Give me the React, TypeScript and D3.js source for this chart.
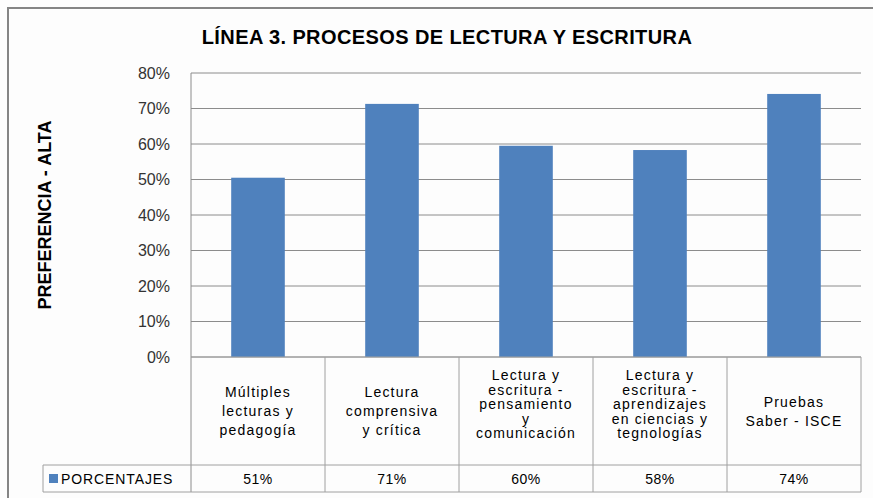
import * as d3 from "d3";
import React from "react";

// categorías del eje x (líneas ya cortadas como en la tabla)
const categoryLines: string[][] = [
  ["Múltiples", "lecturas y", "pedagogía"],
  ["Lectura", "comprensiva", "y crítica"],
  ["Lectura y", "escritura -", "pensamiento", "y", "comunicación"],
  ["Lectura y", "escritura -", "aprendizajes", "en ciencias y", "tegnologías"],
  ["Pruebas", "Saber - ISCE"],
];
const categories = categoryLines.map((l) => l.join(" "));
const values = [0.505, 0.713, 0.595, 0.583, 0.741];
const tableLabels = ["51%", "71%", "60%", "58%", "74%"];
const yTicks = [0, 0.1, 0.2, 0.3, 0.4, 0.5, 0.6, 0.7, 0.8];
const seriesName = "PORCENTAJES";
const title = "LÍNEA 3. PROCESOS DE LECTURA Y ESCRITURA";
const yTitle = "PREFERENCIA - ALTA";

const W = 873;
const H = 498;
const plot = { left: 191, right: 861, top: 73, bottom: 357 };
const catRowBottom = 465;
const valRowBottom = 492;
const legendLeft = 43;
const barColor = "#4F81BD";
const font = "'Liberation Sans', Arial, sans-serif";

export default function App() {
  const x = d3
    .scaleBand<string>()
    .domain(categories)
    .range([plot.left, plot.right])
    .paddingInner(0.6)
    .paddingOuter(0.3);
  const y = d3.scaleLinear().domain([0, 0.8]).range([plot.bottom, plot.top]);
  const pct = d3.format(".0%");
  const step = x.step();
  const colLeft = (i: number) => plot.left + i * step;

  return (
    <svg
      width={W}
      height={H}
      style={{ position: "absolute", left: 0, top: 0, display: "block", fontFamily: font }}
    >
      <rect x={0} y={0} width={W} height={H} fill="#fdfdfd" />
      {/* marco exterior */}
      <rect x={8} y={8} width={W + 10} height={H + 10} fill="none" stroke="#858585" strokeWidth={2} />

      <text
        x={447}
        y={44}
        textAnchor="middle"
        fontSize={20}
        fontWeight="bold"
        letterSpacing={0.4}
        fill="#000"
      >
        {title}
      </text>

      <text
        transform={`translate(51,${(plot.top + plot.bottom) / 2}) rotate(-90)`}
        textAnchor="middle"
        fontSize={18}
        fontWeight="bold"
        fill="#000"
      >
        {yTitle}
      </text>

      {/* cuadrícula */}
      {yTicks.map((t) => (
        <g key={t}>
          <line x1={plot.left} x2={plot.right} y1={y(t)} y2={y(t)} stroke="#8c8c8c" strokeWidth={1} />
          <text x={170} y={y(t)} dy="0.36em" textAnchor="end" fontSize={16} fill="#333">
            {pct(t)}
          </text>
        </g>
      ))}
      <line x1={plot.left} x2={plot.left} y1={plot.top} y2={valRowBottom} stroke="#8c8c8c" />

      {/* barras */}
      {categories.map((c, i) => (
        <rect
          key={c}
          x={x(c)}
          y={y(values[i])}
          width={x.bandwidth()}
          height={y(0) - y(values[i])}
          fill={barColor}
        />
      ))}

      {/* tabla de datos */}
      <g stroke="#a0a0a0" strokeWidth={1}>
        <line x1={plot.left} x2={plot.right} y1={plot.bottom} y2={plot.bottom} />
        <line x1={legendLeft} x2={plot.right} y1={catRowBottom} y2={catRowBottom} />
        <line x1={legendLeft} x2={plot.right} y1={valRowBottom} y2={valRowBottom} />
        <line x1={legendLeft} x2={legendLeft} y1={catRowBottom} y2={valRowBottom} />
        {categories.map((c, i) => (
          <line
            key={c}
            x1={colLeft(i + 1)}
            x2={colLeft(i + 1)}
            y1={plot.bottom}
            y2={valRowBottom}
          />
        ))}
      </g>

      {categoryLines.map((lines, i) => {
        const lh = Math.min(19, 73 / lines.length);
        const cx = colLeft(i) + step / 2;
        const cy = (plot.bottom + catRowBottom) / 2;
        // las celdas llenas se pegan arriba, las demás se centran
        const start = Math.max(plot.bottom + 18, cy - ((lines.length - 1) * lh) / 2 - (lines.length > 4 ? 7 : 0));
        return (
          <text key={i} textAnchor="middle" fontSize={14} letterSpacing={1.2} fill="#000">
            {lines.map((l, j) => (
              <tspan key={j} x={cx} y={start + j * lh} dy="0.36em">
                {l}
              </tspan>
            ))}
          </text>
        );
      })}

      {tableLabels.map((v, i) => (
        <text
          key={i}
          x={colLeft(i) + step / 2}
          y={(catRowBottom + valRowBottom) / 2}
          dy="0.36em"
          textAnchor="middle"
          fontSize={14}
          letterSpacing={0.5}
          fill="#000"
        >
          {v}
        </text>
      ))}

      <rect x={49} y={474} width={9} height={9} fill={barColor} />
      <text x={61} y={(catRowBottom + valRowBottom) / 2} dy="0.36em" fontSize={14} letterSpacing={0.9} fill="#000">
        {seriesName}
      </text>
    </svg>
  );
}
